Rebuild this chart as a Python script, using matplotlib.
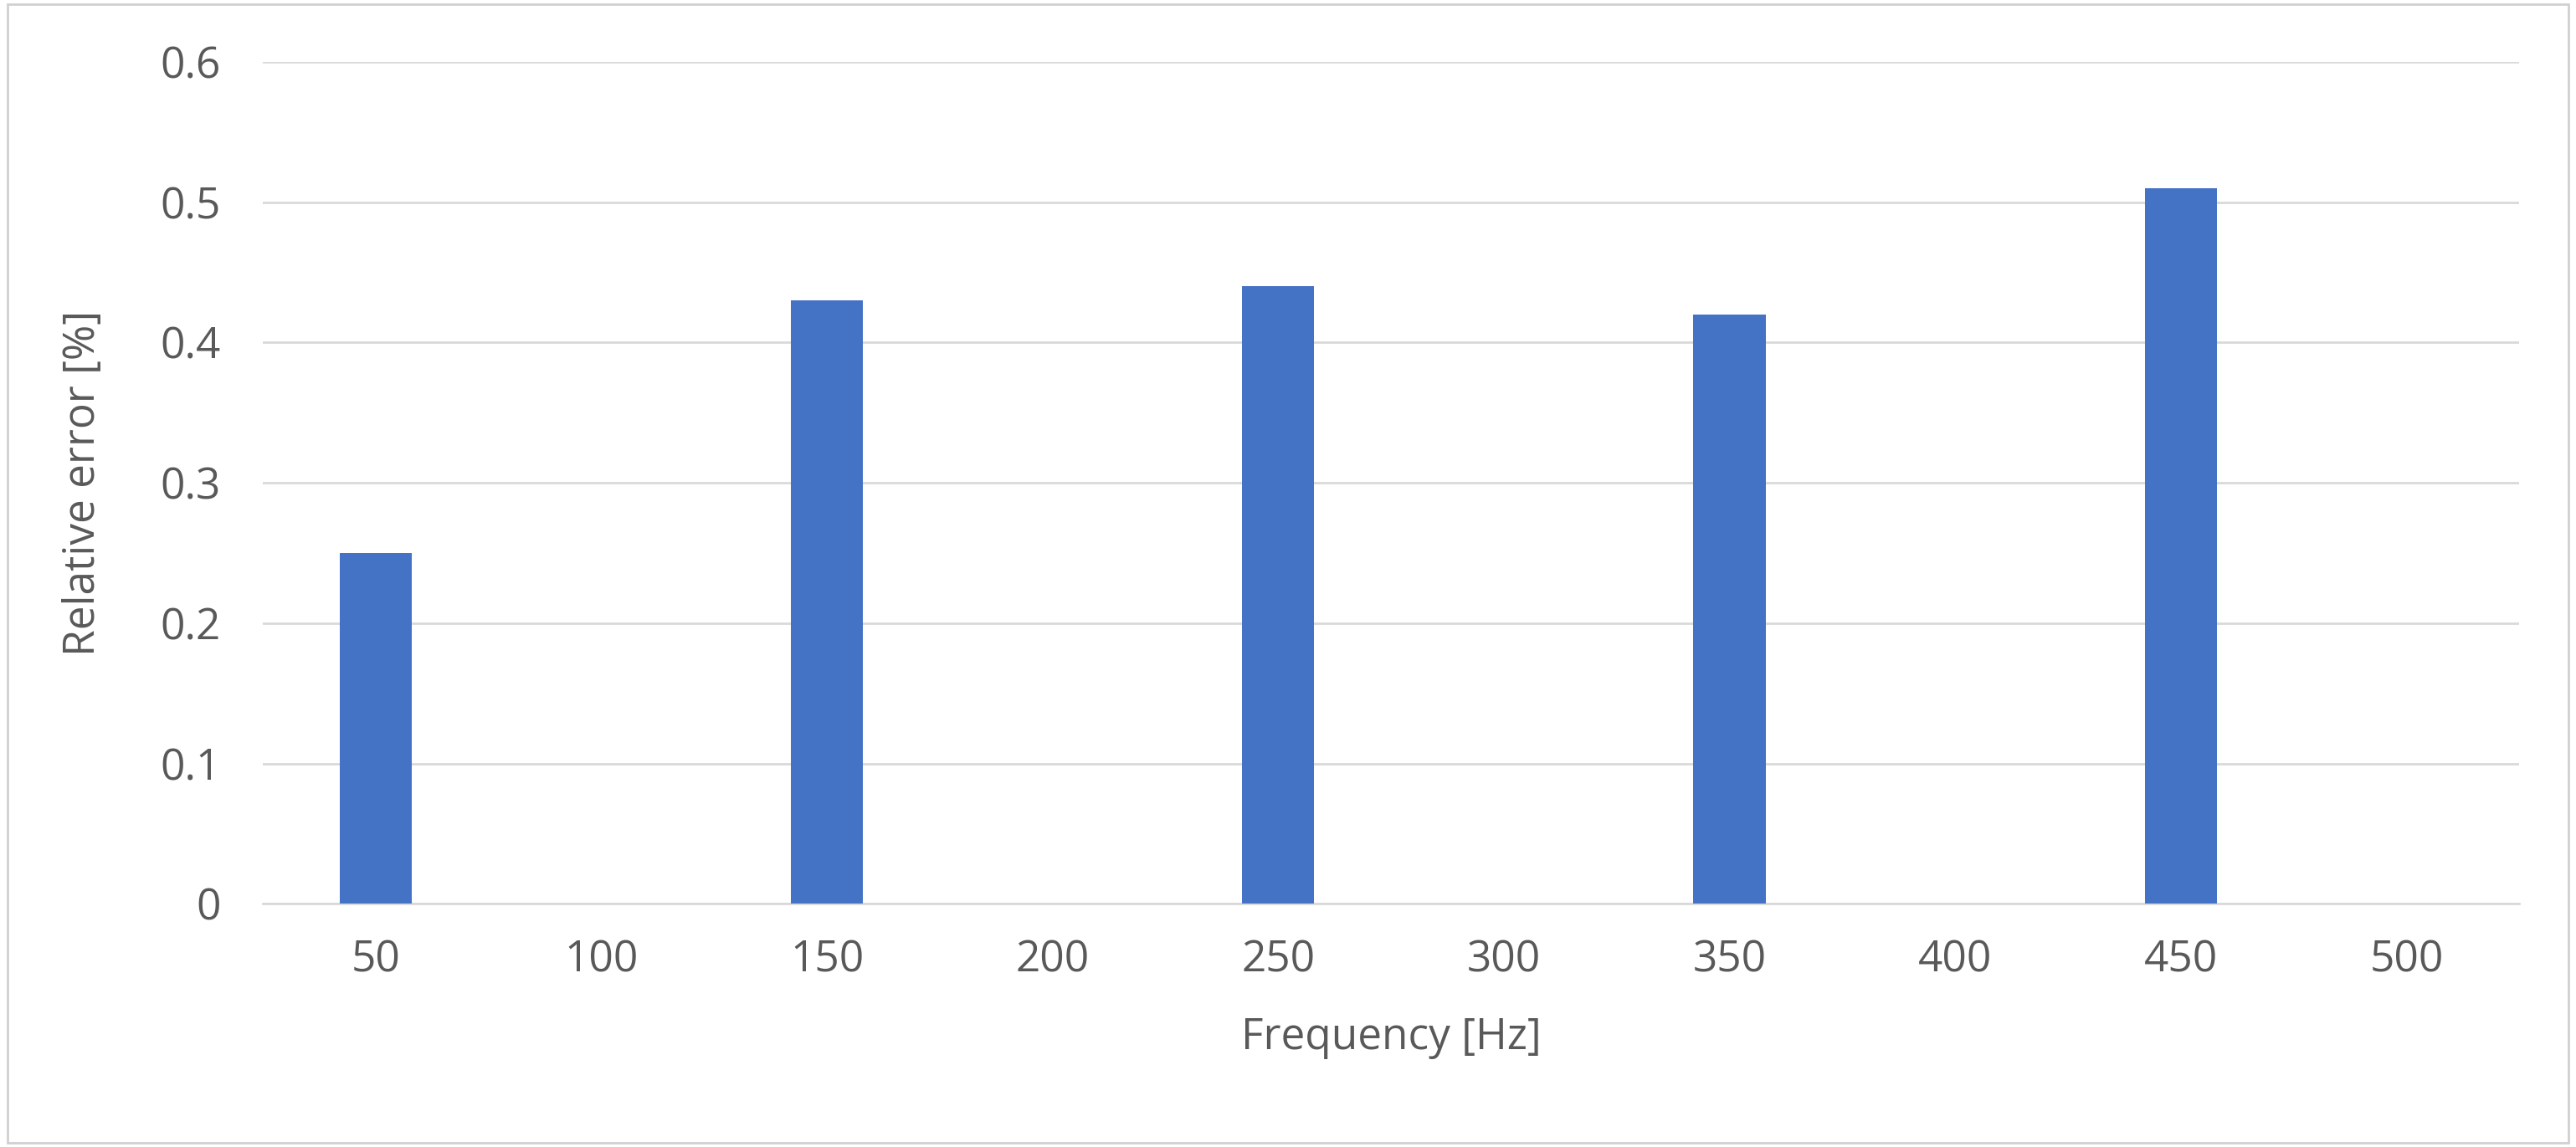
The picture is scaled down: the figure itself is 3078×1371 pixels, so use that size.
import matplotlib
matplotlib.use("Agg")
import matplotlib.pyplot as plt
from matplotlib.patches import Rectangle

categories = ["50", "100", "150", "200", "250", "300", "350", "400", "450", "500"]
values = [0.25, 0, 0.43, 0, 0.44, 0, 0.42, 0, 0.51, 0]
yticks = [0, 0.1, 0.2, 0.3, 0.4, 0.5, 0.6]
ytick_labels = ["0", "0.1", "0.2", "0.3", "0.4", "0.5", "0.6"]

plt.rcParams['font.family'] = ['Open Sans', 'DejaVu Sans']
fig = plt.figure(figsize=(30.78, 13.71), dpi=100)
fig.patches.append(Rectangle((0.003, 0.004), 0.994, 0.992, transform=fig.transFigure,
                             fill=False, edgecolor="#d0d0d0", linewidth=2))
ax = fig.add_axes([0.102, 0.212, 0.876, 0.734])
x = list(range(len(categories)))
ax.bar(x, values, width=0.32, color="#4472C4", zorder=3)
ax.set_xlim(-0.5, len(categories) - 0.5)
ax.set_ylim(0, 0.6)
ax.set_yticks(yticks)
ax.set_yticklabels(ytick_labels)
ax.set_xticks(x)
ax.set_xticklabels(categories)
ax.grid(axis="y", color="#d9d9d9", linewidth=2, zorder=0)
for s in ["top", "right", "left"]:
    ax.spines[s].set_visible(False)
ax.spines["bottom"].set_color("#d9d9d9")
ax.spines["bottom"].set_linewidth(2)
ax.tick_params(axis="both", length=0, labelsize=37, labelcolor="#595959", pad=30)
ax.tick_params(axis="y", pad=36)
ax.set_xlabel("Frequency [Hz]", fontsize=37, color="#595959", labelpad=30)
ax.set_ylabel("Relative error [%]", fontsize=37, color="#595959", labelpad=48)
fig.savefig("out.png", dpi=100)
